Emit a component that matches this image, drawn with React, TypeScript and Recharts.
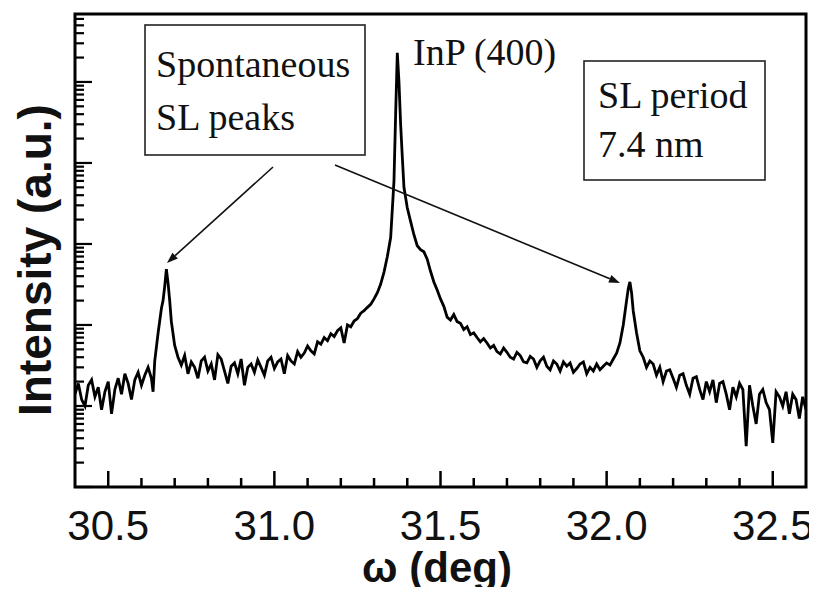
import React from 'react';
import { LineChart, Line, XAxis, YAxis, ReferenceArea } from 'recharts';

// ω (deg) sample positions
const omega = [
  30.40, 30.41, 30.42, 30.43, 30.44, 30.45, 30.46, 30.47, 30.48, 30.49,
  30.50, 30.51, 30.52, 30.53, 30.54, 30.55, 30.56, 30.57, 30.58, 30.59,
  30.60, 30.61, 30.62, 30.63, 30.635, 30.64, 30.65, 30.66, 30.665, 30.67,
  30.675, 30.68, 30.685, 30.69, 30.70, 30.71, 30.72, 30.73, 30.74, 30.75,
  30.76, 30.77, 30.78, 30.79, 30.80, 30.81, 30.82, 30.83, 30.84, 30.85,
  30.86, 30.87, 30.88, 30.89, 30.90, 30.91, 30.92, 30.93, 30.94, 30.95,
  30.96, 30.97, 30.98, 30.99, 31.00, 31.01, 31.02, 31.03, 31.04, 31.05,
  31.06, 31.07, 31.08, 31.09, 31.10, 31.11, 31.12, 31.13, 31.14, 31.15,
  31.16, 31.17, 31.18, 31.19, 31.20, 31.21, 31.22, 31.23, 31.24, 31.25,
  31.26, 31.27, 31.28, 31.29, 31.30, 31.31, 31.32, 31.33, 31.34, 31.35,
  31.36, 31.365, 31.37, 31.375, 31.38, 31.385, 31.39, 31.40, 31.41, 31.42,
  31.43, 31.44, 31.45, 31.46, 31.47, 31.48, 31.49, 31.50, 31.51, 31.52,
  31.53, 31.54, 31.55, 31.56, 31.57, 31.58, 31.59, 31.60, 31.61, 31.62,
  31.63, 31.64, 31.65, 31.66, 31.67, 31.68, 31.69, 31.70, 31.71, 31.72,
  31.73, 31.74, 31.75, 31.76, 31.77, 31.78, 31.79, 31.80, 31.81, 31.82,
  31.83, 31.84, 31.85, 31.86, 31.87, 31.88, 31.89, 31.90, 31.91, 31.92,
  31.93, 31.94, 31.95, 31.96, 31.97, 31.98, 31.99, 32.00, 32.01, 32.02,
  32.03, 32.04, 32.05, 32.06, 32.065, 32.07, 32.075, 32.08, 32.09, 32.10,
  32.11, 32.12, 32.13, 32.14, 32.15, 32.16, 32.17, 32.18, 32.19, 32.20,
  32.21, 32.22, 32.23, 32.24, 32.25, 32.26, 32.27, 32.28, 32.29, 32.30,
  32.31, 32.32, 32.33, 32.34, 32.35, 32.36, 32.37, 32.38, 32.39, 32.40,
  32.41, 32.42, 32.43, 32.44, 32.45, 32.46, 32.47, 32.48, 32.49, 32.50,
  32.51, 32.52, 32.53, 32.54, 32.55, 32.56, 32.57, 32.58, 32.59, 32.60,
];

// Intensity (a.u.)
const intensity = [
  14, 19, 12, 10, 18, 21, 13, 17, 9, 15,
  20, 8, 16, 22, 14, 25, 19, 12, 21, 26,
  18, 24, 30, 22, 15, 36, 79, 160, 200, 300,
  490, 330, 200, 110, 56, 40, 32, 42, 25, 35,
  30, 22, 36, 40, 27, 33, 21, 43, 38, 27,
  19, 31, 34, 25, 38, 18, 30, 33, 26, 37,
  30, 24, 36, 40, 29, 35, 38, 25, 42, 36,
  33, 47, 40, 45, 55, 48, 44, 62, 58, 70,
  64, 78, 72, 85, 92, 60, 100, 95, 112, 120,
  140, 150, 165, 180, 210, 250, 320, 450, 700, 1200,
  6000, 40000, 229000, 100000, 30000, 12000, 5000, 2800, 1900, 1300,
  950, 850, 800, 650, 460, 340, 270, 210, 170, 125,
  115, 135, 110, 105, 88, 95, 76, 80, 70, 62,
  68, 60, 52, 56, 47, 44, 52, 46, 40, 38,
  46, 42, 35, 34, 41, 38, 30, 36, 40, 31,
  28, 36, 33, 27, 35, 31, 34, 26, 29, 33,
  35, 25, 30, 27, 33, 28, 31, 34, 32, 38,
  45, 60, 100, 200, 280, 340, 250, 150, 80, 48,
  40, 30, 36, 33, 24, 30, 20, 27, 28, 22,
  17, 24, 25, 18, 14, 22, 23, 16, 12, 20,
  15, 21, 11, 19, 20, 14, 9, 17, 13, 19,
  16, 3.2, 18, 10, 6, 14, 16, 11, 9, 3.5,
  15, 13, 10, 15, 8, 14, 12, 7, 13, 9,
];

const xTicks = [
  30.5, 30.6, 30.7, 30.8, 30.9, 31.0, 31.1, 31.2, 31.3, 31.4, 31.5,
  31.6, 31.7, 31.8, 31.9, 32.0, 32.1, 32.2, 32.3, 32.4, 32.5,
];
const xMajor = [30.5, 31.0, 31.5, 32.0, 32.5];
const xDomain = [30.4, 32.6];

const yTicks = [
  1, 2, 3, 4, 5, 6, 7, 8, 9,
  10, 20, 30, 40, 50, 60, 70, 80, 90,
  100, 200, 300, 400, 500, 600, 700, 800, 900,
  1000, 2000, 3000, 4000, 5000, 6000, 7000, 8000, 9000,
  10000, 20000, 30000, 40000, 50000, 60000, 70000, 80000, 90000,
  100000, 200000, 300000, 400000, 500000, 600000,
];
const yMajor = [1, 10, 100, 1000, 10000, 100000];
const yDomain = [1, 690000];

const data = omega.map((w, i) => ({ w, I: intensity[i] }));

const SANS = '"Liberation Sans", Arial, Helvetica, sans-serif';
const SERIF = '"Liberation Serif", "Times New Roman", Times, serif';

const renderXTick = (props: any) => {
  const { x, y, payload } = props;
  const v = Number(payload.value);
  const major = xMajor.some((m) => Math.abs(m - v) < 1e-6);
  return (
    <g key={`xt-${v}`}>
      <line x1={x} x2={x} y1={y} y2={y - (major ? 16 : 9)} stroke="#000" strokeWidth={2.5} />
      {major && (
        <text x={x} y={y + 53} textAnchor="middle" fontSize={42} fontFamily={SANS} fill="#111">
          {v.toFixed(1)}
        </text>
      )}
    </g>
  );
};

const renderYTick = (props: any) => {
  const { x, y, payload } = props;
  const v = Number(payload.value);
  const major = yMajor.includes(v);
  return (
    <line
      key={`yt-${v}`}
      x1={x}
      x2={x + (major ? 17 : 9)}
      y1={y}
      y2={y}
      stroke="#000"
      strokeWidth={2.2}
    />
  );
};

const Arrow = ({ x1, y1, x2, y2 }: { x1: number; y1: number; x2: number; y2: number }) => {
  const dx = x2 - x1;
  const dy = y2 - y1;
  const len = Math.sqrt(dx * dx + dy * dy);
  const ux = dx / len;
  const uy = dy / len;
  const hl = 11;
  const hw = 4;
  const bx = x2 - ux * hl;
  const by = y2 - uy * hl;
  const pts = `${x2},${y2} ${bx - uy * hw},${by + ux * hw} ${bx + uy * hw},${by - ux * hw}`;
  return (
    <g>
      <line x1={x1} y1={y1} x2={bx} y2={by} stroke="#111" strokeWidth={1.6} />
      <polygon points={pts} fill="#111" />
    </g>
  );
};

export default function App() {
  const W = 809;
  const H = 579;
  return (
    <div style={{ position: 'relative', width: W, height: H }}>
      <LineChart
        width={W}
        height={H}
        data={data}
        margin={{ top: 6, right: 11, left: 0, bottom: 0 }}
      >
        <XAxis
          dataKey="w"
          type="number"
          domain={xDomain}
          allowDataOverflow
          ticks={xTicks}
          interval={0}
          height={100}
          tickSize={0}
          tickMargin={0}
          tickLine={false}
          axisLine={false}
          tick={renderXTick}
        />
        <YAxis
          type="number"
          scale="log"
          domain={yDomain}
          allowDataOverflow
          ticks={yTicks}
          interval={0}
          width={67}
          tickSize={0}
          tickMargin={0}
          tickLine={false}
          axisLine={false}
          tick={renderYTick}
        />
        <Line
          dataKey="I"
          type="linear"
          stroke="#000"
          strokeWidth={2.8}
          dot={false}
          isAnimationActive={false}
        />
        <ReferenceArea
          x1={xDomain[0]}
          x2={xDomain[1]}
          y1={yDomain[0]}
          y2={yDomain[1]}
          fill="none"
          fillOpacity={0}
          stroke="#000"
          strokeWidth={3}
          ifOverflow="visible"
        />
      </LineChart>
      <svg
        width={W}
        height={H}
        style={{ position: 'absolute', left: 0, top: 0, pointerEvents: 'none', overflow: 'visible' }}
      >
        <text
          transform="translate(27,252) rotate(-90)"
          textAnchor="middle"
          dominantBaseline="central"
          fontSize={46}
          fontWeight="bold"
          fontFamily={SANS}
          fill="#111"
        >
          Intensity (a.u.)
        </text>
        <text x={429} y={574} textAnchor="middle" fontSize={42} fontWeight="bold" fontFamily={SANS} fill="#111">
          ω (deg)
        </text>

        <rect x={137} y={17} width={220} height={130} fill="#fff" stroke="#222" strokeWidth={1.6} />
        <text x={148} y={69} fontSize={38} fontFamily={SERIF} fill="#111">Spontaneous</text>
        <text x={148} y={122} fontSize={38} fontFamily={SERIF} fill="#111">SL peaks</text>

        <text x={405} y={57} fontSize={38} fontFamily={SERIF} fill="#111">InP (400)</text>

        <rect x={576} y={53} width={181} height={119} fill="#fff" stroke="#222" strokeWidth={1.6} />
        <text x={590} y={100} fontSize={38} fontFamily={SERIF} fill="#111">SL period</text>
        <text x={590} y={149} fontSize={38} fontFamily={SERIF} fill="#111">7.4 nm</text>

        <Arrow x1={265} y1={159} x2={159} y2={255} />
        <Arrow x1={327} y1={157} x2={612} y2={275} />
      </svg>
    </div>
  );
}
